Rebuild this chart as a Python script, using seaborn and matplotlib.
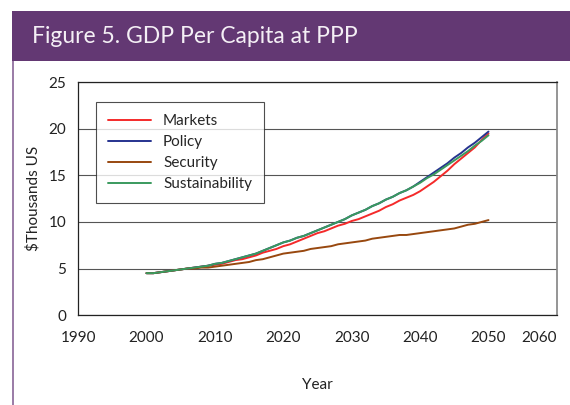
import matplotlib
matplotlib.use("Agg")
import matplotlib.pyplot as plt
import pandas as pd
import seaborn as sns
from matplotlib.patches import Rectangle

# yearly values, $ thousands US
YEARS = list(range(2000, 2051))
MARKETS = [4.5, 4.5, 4.6, 4.7, 4.8, 4.9, 5.0, 5.1, 5.2, 5.3,
           5.4, 5.5, 5.7, 5.9, 6.0, 6.2, 6.4, 6.7, 6.9, 7.1,
           7.4, 7.6, 7.9, 8.2, 8.5, 8.8, 9.0, 9.3, 9.6, 9.8,
           10.1, 10.3, 10.6, 10.9, 11.2, 11.6, 11.9, 12.3, 12.6, 12.9,
           13.3, 13.8, 14.3, 14.9, 15.5, 16.2, 16.8, 17.4, 18.0, 18.8,
           19.5]
POLICY = [4.5, 4.5, 4.6, 4.7, 4.8, 4.9, 5.0, 5.1, 5.2, 5.3,
          5.5, 5.6, 5.8, 6.0, 6.2, 6.4, 6.6, 6.9, 7.2, 7.5,
          7.8, 8.0, 8.3, 8.5, 8.8, 9.1, 9.4, 9.7, 10.0, 10.3,
          10.7, 11.0, 11.3, 11.7, 12.0, 12.4, 12.7, 13.1, 13.4, 13.8,
          14.3, 14.8, 15.3, 15.8, 16.3, 16.9, 17.4, 18.0, 18.5, 19.1,
          19.7]
SECURITY = [4.5, 4.5, 4.6, 4.7, 4.8, 4.9, 5.0, 5.0, 5.1, 5.1,
            5.2, 5.3, 5.4, 5.5, 5.6, 5.7, 5.9, 6.0, 6.2, 6.4,
            6.6, 6.7, 6.8, 6.9, 7.1, 7.2, 7.3, 7.4, 7.6, 7.7,
            7.8, 7.9, 8.0, 8.2, 8.3, 8.4, 8.5, 8.6, 8.6, 8.7,
            8.8, 8.9, 9.0, 9.1, 9.2, 9.3, 9.5, 9.7, 9.8, 10.0,
            10.2]
SUSTAINABILITY = [4.5, 4.5, 4.6, 4.7, 4.8, 4.9, 5.0, 5.1, 5.2, 5.3,
                  5.5, 5.6, 5.8, 6.0, 6.2, 6.4, 6.6, 6.9, 7.2, 7.5,
                  7.8, 8.0, 8.3, 8.5, 8.8, 9.1, 9.4, 9.7, 10.0, 10.3,
                  10.7, 11.0, 11.3, 11.7, 12.0, 12.4, 12.7, 13.1, 13.4, 13.8,
                  14.2, 14.7, 15.1, 15.6, 16.1, 16.6, 17.1, 17.6, 18.2, 18.7,
                  19.3]
SCENARIOS = ["Markets", "Policy", "Security", "Sustainability"]
COLORS = ["#f42a2a", "#26338f", "#98480f", "#3a9a5e"]
X_TICKS = list(range(1990, 2061, 10))
Y_TICKS = [0, 5, 10, 15, 20, 25]

df = pd.DataFrame({
    "Year": YEARS * 4,
    "value": MARKETS + POLICY + SECURITY + SUSTAINABILITY,
    "scenario": [s for s in SCENARIOS for _ in YEARS],
})

sns.set_theme(style="white")
plt.rcParams["font.family"] = ["Lato", "DejaVu Sans"]

fig = plt.figure(figsize=(5.7, 4.05), dpi=100)
fig.patch.set_facecolor("white")

# purple title band and left rule
fig.patches.append(Rectangle((0.021, 0.849), 0.979, 0.124, transform=fig.transFigure,
                             facecolor="#633873", edgecolor="none"))
fig.patches.append(Rectangle((0.021, 0.0), 0.004, 0.849, transform=fig.transFigure,
                             facecolor="#9c7ea8", edgecolor="none"))
fig.text(0.056, 0.909, "Figure 5. GDP Per Capita at PPP", color="#f4eff5",
         fontsize=16.5, fontweight="normal", va="center", ha="left")

ax = fig.add_axes([0.137, 0.222, 0.840, 0.575])
sns.lineplot(data=df, x="Year", y="value", hue="scenario", hue_order=SCENARIOS,
             palette=COLORS, linewidth=1.4, ax=ax)

ax.set_xlim(1990, 2060)
ax.set_ylim(0, 25)
ax.set_xticks(X_TICKS)
ax.set_yticks(Y_TICKS)
ax.yaxis.grid(True, color="#555555", linewidth=0.8)
ax.set_axisbelow(True)
for side in ["left", "bottom", "top"]:
    ax.spines[side].set_color("#222222")
    ax.spines[side].set_linewidth(0.9)
ax.spines["right"].set_color("#888888")
ax.tick_params(axis="both", direction="inout", length=5, width=0.8,
               colors="#222222", labelsize=11, pad=6)
ax.tick_params(axis="x", pad=9)
ax.get_xticklabels()[-1].set_horizontalalignment("right")
ax.get_xticklabels()[-1].set_x(2061)
ax.set_xlabel("Year", fontsize=11, color="#222222", labelpad=24)
ax.set_ylabel("$Thousands US", fontsize=11, color="#222222", labelpad=6)

leg = ax.legend(loc="upper left", bbox_to_anchor=(0.037, 0.915), frameon=True,
                fancybox=False, edgecolor="#222222", fontsize=11, handlelength=2.8,
                borderpad=0.8, labelspacing=0.45, borderaxespad=0)
leg.get_frame().set_linewidth(0.8)

fig.savefig("out.png", dpi=100)
